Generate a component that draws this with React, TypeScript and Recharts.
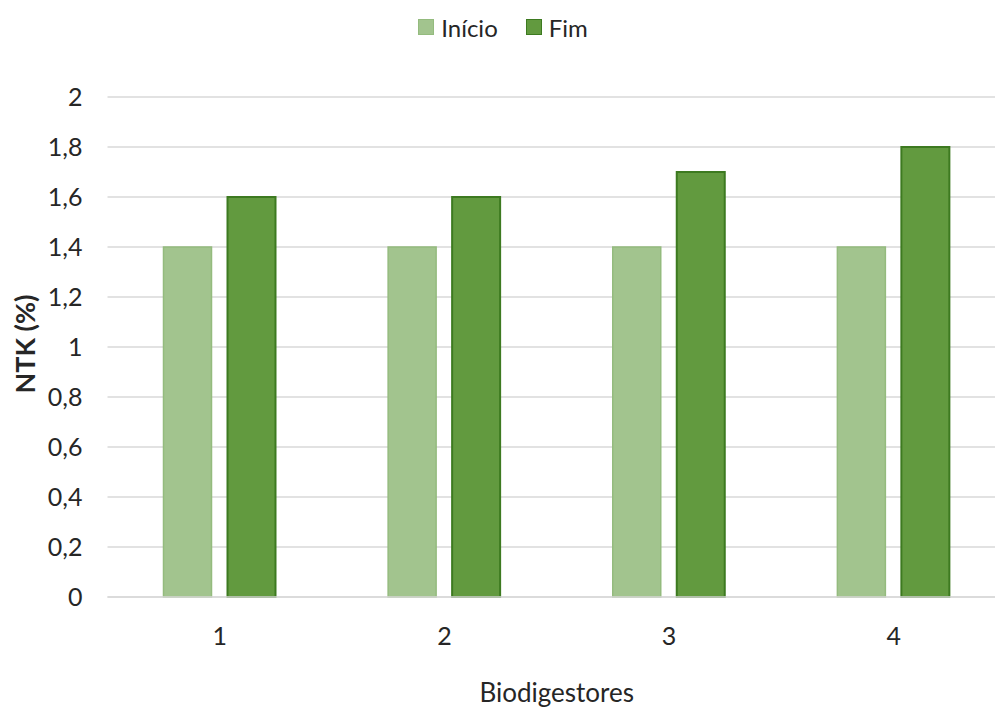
import React from "react";
import { BarChart, Bar, XAxis, YAxis, CartesianGrid, Legend } from "recharts";

// Chart values
const categories = ["1", "2", "3", "4"];
const inicioValues = [1.4, 1.4, 1.4, 1.4];
const fimValues = [1.6, 1.6, 1.7, 1.8];
const yTicks = [0, 0.2, 0.4, 0.6, 0.8, 1, 1.2, 1.4, 1.6, 1.8, 2];
const seriesOrder = ["Início", "Fim"];

const data = categories.map((name, i) => ({
  name,
  inicio: inicioValues[i],
  fim: fimValues[i],
}));

const FONT = "Lato, 'Noto Sans', sans-serif";
const TEXT = "#262626";

const fmt = (v: number) => String(v).replace(".", ",");

const LegendContent = (props: any) => {
  const payload = [...(props.payload || [])].sort(
    (a: any, b: any) => seriesOrder.indexOf(a.value) - seriesOrder.indexOf(b.value)
  );
  return (
    <div
      style={{
        height: 40,
        display: "flex",
        justifyContent: "center",
        alignItems: "center",
        gap: 28,
        fontFamily: FONT,
        fontSize: 24,
        color: TEXT,
      }}
    >
      {payload.map((p: any) => (
        <div key={p.value} style={{ display: "flex", alignItems: "center", gap: 7 }}>
          <span
            style={{
              width: 14,
              height: 14,
              background: p.payload?.fill ?? p.color,
              border: `1px solid ${p.payload?.stroke ?? p.color}`,
              display: "inline-block",
            }}
          />
          <span>{p.value}</span>
        </div>
      ))}
    </div>
  );
};

const YLabel = (props: any) => {
  const vb = props.viewBox || {};
  const cx = 24;
  const cy = vb.y + vb.height / 2 - 3;
  return (
    <text
      x={cx}
      y={cy}
      transform={`rotate(-90 ${cx} ${cy})`}
      textAnchor="middle"
      dominantBaseline="central"
      fontFamily={FONT}
      fontWeight={700}
      fontSize={27}
      fill={TEXT}
    >
      NTK (%)
    </text>
  );
};

const XLabel = (props: any) => {
  const vb = props.viewBox || {};
  return (
    <text
      x={vb.x + vb.width / 2}
      y={vb.y + 105}
      textAnchor="middle"
      fontFamily={FONT}
      fontSize={26}
      fill={TEXT}
    >
      Biodigestores
    </text>
  );
};

export default function App() {
  return (
    <div
      style={{
        position: "absolute",
        left: 0,
        top: 0,
        width: 995,
        height: 708,
        overflow: "hidden",
        background: "#fff",
      }}
    >
      <BarChart
        width={1012}
        height={708}
        data={data}
        margin={{ top: 57, right: 6, bottom: 0, left: 0 }}
        barGap={16}
        barSize={48}
      >
        <CartesianGrid vertical={false} stroke="#d9d9d9" strokeWidth={1.5} />
        <XAxis
          dataKey="name"
          height={111}
          axisLine={{ stroke: "#d9d9d9", strokeWidth: 1.5 }}
          tickLine={false}
          tickSize={0}
          tickMargin={30}
          tick={{ fontSize: 25, fontFamily: FONT, fill: TEXT }}
          label={<XLabel />}
        />
        <YAxis
          width={107.5}
          domain={[0, 2]}
          ticks={yTicks}
          tickFormatter={fmt}
          axisLine={false}
          tickLine={false}
          tickSize={0}
          tickMargin={25}
          tick={{ fontSize: 25, fontFamily: FONT, fill: TEXT }}
          label={<YLabel />}
        />
        <Legend
          verticalAlign="top"
          wrapperStyle={{ top: 7 }}
          content={<LegendContent />}
        />
        <Bar
          dataKey="inicio"
          name="Início"
          fill="#a2c48e"
          stroke="#94bb7e"
          strokeWidth={1.5}
          isAnimationActive={false}
        />
        <Bar
          dataKey="fim"
          name="Fim"
          fill="#629a3f"
          stroke="#3d7a20"
          strokeWidth={2}
          isAnimationActive={false}
        />
      </BarChart>
    </div>
  );
}
